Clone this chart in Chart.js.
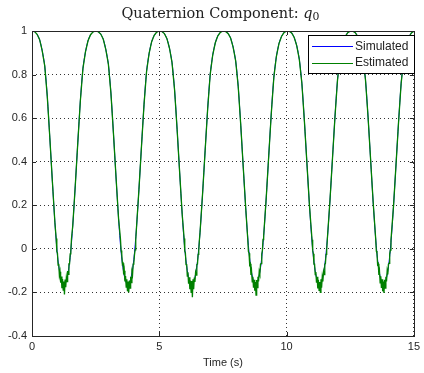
<!DOCTYPE html>
<html>
<head>
<meta charset="utf-8">
<script src="https://cdn.jsdelivr.net/npm/chart.js@4"></script>
<style>
  html, body { margin: 0; padding: 0; background: #fff; }
  #wrap { width: 424px; height: 373px; }
</style>
</head>
<body>
<div id="wrap"><canvas id="myChart" width="424" height="373"></canvas></div>
<script>
// Simulated q0, sampled every 0.1 s from 0 to 15 s
const simStep = 0.1;
const simValue = [
  1.000, 0.997, 0.985, 0.960, 0.910, 0.840, 0.700, 0.510, 0.310, 0.120,
  -0.030, -0.115, -0.158, -0.160, -0.120, -0.039, 0.105, 0.291, 0.490, 0.681,
  0.827, 0.904, 0.955, 0.983, 0.996, 1.000, 0.997, 0.986, 0.962, 0.915,
  0.848, 0.715, 0.529, 0.330, 0.139, -0.015, -0.107, -0.155, -0.161, -0.126,
  -0.048, 0.090, 0.272, 0.470, 0.662, 0.814, 0.897, 0.951, 0.980, 0.995,
  1.000, 0.998, 0.988, 0.965, 0.921, 0.855, 0.730, 0.548, 0.350, 0.158,
  0.000, -0.099, -0.151, -0.162, -0.131, -0.057, 0.075, 0.253, 0.450, 0.643,
  0.801, 0.891, 0.946, 0.978, 0.994, 1.000, 0.998, 0.989, 0.968, 0.926,
  0.863, 0.745, 0.567, 0.370, 0.177, 0.015, -0.091, -0.147, -0.163, -0.135,
  -0.066, 0.060, 0.234, 0.430, 0.624, 0.788, 0.884, 0.942, 0.975, 0.993,
  0.999, 0.999, 0.991, 0.970, 0.932, 0.870, 0.760, 0.586, 0.390, 0.196,
  0.030, -0.083, -0.144, -0.165, -0.140, -0.075, 0.045, 0.215, 0.410, 0.605,
  0.775, 0.878, 0.937, 0.973, 0.992, 0.999, 0.999, 0.992, 0.973, 0.937,
  0.878, 0.775, 0.605, 0.410, 0.215, 0.045, -0.075, -0.140, -0.165, -0.144,
  -0.083, 0.030, 0.196, 0.390, 0.586, 0.760, 0.870, 0.932, 0.970, 0.991,
  0.999
];

// Estimated q0 is noisy around each trough: 25 samples, 0.025 s apart
const noisyStep = 0.025;
const noisyStart = [0.95, 3.475, 5.975, 8.475, 11.0, 13.5];
const trough1 = [0.047, -0.012, -0.020, -0.075, -0.069, -0.121, -0.105, -0.155, -0.127, -0.181, -0.139, -0.189, -0.150,
  -0.209, -0.141, -0.176, -0.130, -0.150, -0.102, -0.117, -0.069, -0.069, -0.023, -0.010, 0.045];
const trough2 = [0.045, -0.008, -0.022, -0.070, -0.066, -0.118, -0.100, -0.150, -0.125, -0.175, -0.140, -0.195, -0.150,
  -0.200, -0.145, -0.180, -0.128, -0.155, -0.105, -0.118, -0.070, -0.065, -0.028, -0.005, 0.042];
const trough3 = [0.048, -0.010, -0.018, -0.072, -0.070, -0.125, -0.108, -0.160, -0.130, -0.185, -0.145, -0.200, -0.148,
  -0.222, -0.140, -0.185, -0.132, -0.152, -0.108, -0.120, -0.072, -0.070, -0.025, -0.008, 0.040];
const trough4 = [0.044, -0.012, -0.020, -0.073, -0.068, -0.120, -0.104, -0.152, -0.128, -0.178, -0.142, -0.192, -0.152,
  -0.212, -0.143, -0.178, -0.128, -0.150, -0.104, -0.116, -0.070, -0.068, -0.024, -0.008, 0.043];
const trough5 = [0.042, -0.008, -0.022, -0.070, -0.070, -0.118, -0.106, -0.155, -0.128, -0.182, -0.142, -0.190, -0.152,
  -0.200, -0.140, -0.178, -0.130, -0.150, -0.104, -0.118, -0.070, -0.068, -0.025, -0.006, 0.044];
const trough6 = [0.046, -0.010, -0.020, -0.072, -0.068, -0.120, -0.104, -0.156, -0.126, -0.180, -0.140, -0.195, -0.150,
  -0.202, -0.142, -0.180, -0.128, -0.150, -0.102, -0.118, -0.070, -0.066, -0.024, -0.006, 0.040];
const troughs = [trough1, trough2, trough3, trough4, trough5, trough6];

const xTicks = [0, 5, 10, 15];
const yTicks = [-0.4, -0.2, 0, 0.2, 0.4, 0.6, 0.8, 1];

const simColor = '#0000ff';
const estColor = '#008000';

// Build the point lists
const simPoints = simValue.map((v, i) => ({ x: +(i * simStep).toFixed(3), y: v }));

let estPoints = [];
troughs.forEach((vals, k) => {
  vals.forEach((v, j) => {
    estPoints.push({ x: +(noisyStart[k] + j * noisyStep).toFixed(3), y: v });
  });
});
const inWindow = (t) => noisyStart.some(s => t >= s - 1e-6 && t <= s + 24 * noisyStep + 1e-6);
simPoints.forEach(p => { if (!inWindow(p.x)) estPoints.push({ x: p.x, y: p.y }); });
estPoints.sort((a, b) => a.x - b.x);

const axisColor = '#262626';
const tickFont = { family: 'Liberation Sans, Arial, sans-serif', size: 11 };

// Title, frame, inner ticks and legend box drawn MATLAB style
const matlabDecor = {
  id: 'matlabDecor',
  afterDraw(chart) {
    const c = chart.ctx;
    const a = chart.chartArea;
    const xs = chart.scales.x, ys = chart.scales.y;
    c.save();

    // frame
    c.strokeStyle = axisColor;
    c.lineWidth = 1;
    c.strokeRect(Math.round(a.left) + 0.5, Math.round(a.top) + 0.5,
      Math.round(a.right - a.left), Math.round(a.bottom - a.top));

    // inner ticks on all four sides
    c.beginPath();
    xTicks.forEach(t => {
      const px = Math.round(xs.getPixelForValue(t)) + 0.5;
      c.moveTo(px, a.bottom); c.lineTo(px, a.bottom - 4);
      c.moveTo(px, a.top); c.lineTo(px, a.top + 4);
    });
    yTicks.forEach(t => {
      const py = Math.round(ys.getPixelForValue(t)) + 0.5;
      c.moveTo(a.left, py); c.lineTo(a.left + 4, py);
      c.moveTo(a.right, py); c.lineTo(a.right - 4, py);
    });
    c.stroke();

    // title: Quaternion Component: q0, fitted to ~201 px
    const main = 'Quaternion Component: ';
    const serif = '"DejaVu Serif", serif';
    c.font = '14px ' + serif;
    let fs = 14 * 182 / c.measureText(main).width;
    c.font = fs + 'px ' + serif;
    const w1 = c.measureText(main).width;
    c.font = 'italic ' + fs + 'px ' + serif;
    const w2 = c.measureText('q').width;
    c.font = (fs * 0.75) + 'px ' + serif;
    const w3 = c.measureText('0').width;
    const x0 = 121.5;
    const base = 18;
    c.fillStyle = '#222';
    c.textBaseline = 'alphabetic';
    c.font = fs + 'px ' + serif;
    c.fillText(main, x0, base);
    c.font = 'italic ' + fs + 'px ' + serif;
    c.fillText('q', x0 + w1, base);
    c.font = (fs * 0.75) + 'px ' + serif;
    c.fillText('0', x0 + w1 + w2, base + 2);

    // legend
    const lx = 308.5, ly = 35.5, lw = 106, lh = 38;
    c.fillStyle = '#fff';
    c.fillRect(lx, ly, lw, lh);
    c.strokeStyle = '#000';
    c.lineWidth = 1;
    c.strokeRect(lx, ly, lw, lh);
    c.font = '12px "Liberation Sans", Arial, sans-serif';
    c.textBaseline = 'middle';
    const legendColors = [simColor, estColor];
    chart.data.datasets.forEach((ds, i) => {
      const yy = 46 + i * 16.5;
      c.strokeStyle = legendColors[i];
      c.lineWidth = 1;
      c.beginPath();
      c.moveTo(312, Math.round(yy) + 0.5);
      c.lineTo(353, Math.round(yy) + 0.5);
      c.stroke();
      c.fillStyle = '#222';
      c.fillText(ds.label, 355, yy + 0.5);
    });
    c.restore();
  }
};

const ctx = document.getElementById('myChart').getContext('2d');
const chart = new Chart(ctx, {
  type: 'line',
  data: {
    datasets: [
      {
        label: 'Simulated',
        data: simPoints,
        borderColor: simColor,
        borderWidth: 1,
        pointRadius: 0,
        tension: 0.3,
        order: 2
      },
      {
        label: 'Estimated',
        data: estPoints,
        borderColor: estColor,
        borderWidth: 1.3,
        pointRadius: 0,
        tension: 0,
        order: 1
      }
    ]
  },
  options: {
    responsive: false,
    animation: false,
    layout: { padding: { top: 31, right: 5, left: 0, bottom: 0 } },
    plugins: {
      legend: { display: false },
      title: { display: false },
      tooltip: { enabled: false }
    },
    scales: {
      x: {
        type: 'linear',
        min: 0,
        max: 15,
        afterBuildTicks: (s) => { s.ticks = xTicks.map(v => ({ value: v })); },
        afterFit: (s) => { s.height = 37; },
        ticks: { font: tickFont, color: axisColor, padding: 4, maxRotation: 0 },
        grid: { color: '#333', lineWidth: 1, drawTicks: false },
        border: { display: false, dash: [1, 3] },
        title: {
          display: true,
          text: 'Time (s)',
          font: tickFont,
          color: axisColor,
          padding: { top: 0, bottom: 3 }
        }
      },
      y: {
        type: 'linear',
        min: -0.4,
        max: 1,
        afterBuildTicks: (s) => { s.ticks = yTicks.map(v => ({ value: v })); },
        afterFit: (s) => { s.width = 32; },
        ticks: {
          font: tickFont,
          color: axisColor,
          padding: 5,
          callback: (v) => String(Math.round(v * 10) / 10)
        },
        grid: { color: '#333', lineWidth: 1, drawTicks: false },
        border: { display: false, dash: [1, 3] }
      }
    }
  },
  plugins: [matlabDecor]
});
</script>
</body>
</html>
